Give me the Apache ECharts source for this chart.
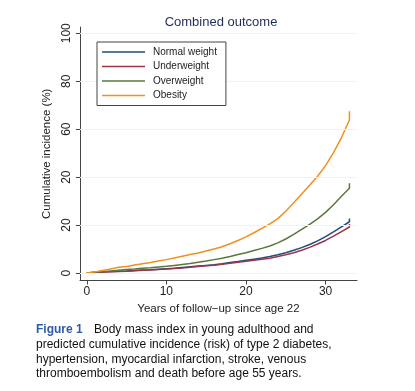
<!DOCTYPE html>
<html>
<head>
<meta charset="utf-8">
<script src="https://cdn.jsdelivr.net/npm/echarts@6/dist/echarts.min.js"></script>
<style>
html,body{margin:0;padding:0;background:#fff;}
#chart{width:415px;height:391px;}
</style>
</head>
<body>
<div id="chart"></div>
<script>
// ---- data ----
var titleText = 'Combined outcome';
var seriesNames = ['Normal weight', 'Underweight', 'Overweight', 'Obesity'];
var years = [0,1,2,3,4,5,6,7,8,9,10,11,12,13,14,15,16,17,18,19,20,21,22,23,24,25,26,27,28,29,30,31,32,33,33];
var normalWeight = [0,0.2,0.4,0.6,0.8,0.9,1.1,1.3,1.4,1.6,1.8,2.0,2.3,2.6,2.9,3.2,3.5,3.9,4.4,4.8,5.3,5.8,6.3,6.9,7.6,8.5,9.5,10.6,11.9,13.4,15.2,17.2,19.3,21.4,22.8];
var underweight = [0,0.2,0.4,0.5,0.7,0.8,1.0,1.2,1.3,1.5,1.7,1.9,2.1,2.4,2.7,3.0,3.3,3.7,4.1,4.5,4.9,5.3,5.8,6.2,6.9,7.6,8.5,9.5,10.7,12.1,13.6,15.4,17.3,19.2,20.5];
var overweight = [0,0.3,0.6,0.9,1.2,1.5,1.7,2.0,2.2,2.5,2.8,3.2,3.6,4.0,4.5,5.0,5.6,6.2,6.9,7.7,8.5,9.4,10.3,11.3,12.6,14.2,16.1,18.2,20.3,22.6,25.3,28.5,32.0,35.4,37.5];
var obesity = [0,0.5,1.1,1.7,2.4,2.7,3.4,3.9,4.4,5.0,5.6,6.3,7.0,7.7,8.4,9.2,10.0,11.0,12.2,13.6,15.1,16.8,18.6,20.5,22.7,25.8,29.3,33.0,36.6,40.4,44.8,50.2,56.5,63.8,67.5];
var xTickValues = [0,10,20,30];
var xTickLabels = ['0','10','20','30'];
var yTickValues = [0,20,40,60,80,100];
var yTickLabels = ['0','20','20','60','80','100'];
var xAxisName = 'Years of follow\u2212up since age 22';
var yAxisName = 'Cumulative incidence (%)';
var captionLabel = 'Figure 1';
var captionLines = [
  'Body mass index in young adulthood and',
  'predicted cumulative incidence (risk) of type 2 diabetes,',
  'hypertension, myocardial infarction, stroke, venous',
  'thromboembolism and death before age 55 years.'
];

// ---- styles ----
var FONT = '"Liberation Sans", Arial, sans-serif';
var colors = ['#1f4e79', '#9a3648', '#58783a', '#f0901f'];
var allValues = [normalWeight, underweight, overweight, obesity];

function pairs(xs, ys) {
  return xs.map(function (x, i) { return [x, ys[i]]; });
}

var series = [{
  name: '__grid',
  type: 'line',
  data: [],
  z: 0,
  silent: true,
  markLine: {
    silent: true,
    symbol: ['none', 'none'],
    label: { show: false },
    lineStyle: { color: '#f1f1f1', width: 1, type: 'solid' },
    emphasis: { disabled: true },
    data: yTickValues.map(function (v) { return { yAxis: v }; })
  }
}];
seriesNames.forEach(function (n, i) {
  series.push({
    name: n,
    type: 'line',
    data: pairs(years, allValues[i]),
    symbol: 'none',
    showSymbol: false,
    z: 3,
    lineStyle: { color: colors[i], width: 1.5 },
    itemStyle: { color: colors[i] },
    emphasis: { disabled: true }
  });
});

var graphics = [{
  type: 'text',
  left: 36, top: 324,
  style: { text: captionLabel, font: 'bold 12px ' + FONT, fill: '#2f5aa8' }
}];
var capY = [324, 339, 354, 368];
captionLines.forEach(function (t, i) {
  graphics.push({
    type: 'text',
    left: i === 0 ? 94 : 36,
    top: capY[i],
    style: { text: t, font: '12px ' + FONT, fill: '#111' }
  });
});

var chart = echarts.init(document.getElementById('chart'), null, { renderer: 'canvas' });
chart.setOption({
  backgroundColor: '#fff',
  animation: false,
  textStyle: { fontFamily: FONT },
  title: {
    text: titleText,
    left: 216,
    top: 11,
    textAlign: 'center',
    textStyle: { color: '#1f2d5c', fontSize: 13, fontWeight: 'normal', fontFamily: FONT }
  },
  legend: {
    data: seriesNames,
    orient: 'vertical',
    left: 97,
    top: 42,
    z: 10,
    padding: [5, 9, 5, 5],
    icon: 'rect',
    itemWidth: 43,
    itemHeight: 1.3,
    itemGap: 4.5,
    borderColor: '#444',
    borderWidth: 1,
    borderRadius: 0,
    backgroundColor: '#fff',
    selectedMode: false,
    textStyle: { fontSize: 10, lineHeight: 10, color: '#222', fontFamily: FONT, padding: [0, 0, 0, 3] }
  },
  grid: { left: 80, right: 58, top: 27, bottom: 110.5, containLabel: false },
  xAxis: {
    type: 'value',
    min: -0.85,
    max: 33.95,
    name: xAxisName,
    nameLocation: 'middle',
    nameGap: 17,
    nameTextStyle: { fontSize: 11.5, color: '#222', fontFamily: FONT },
    axisLine: { onZero: false, lineStyle: { color: '#444', width: 1 } },
    axisTick: { show: true, customValues: xTickValues, length: 4, lineStyle: { color: '#444' } },
    axisLabel: {
      customValues: xTickValues,
      margin: 5,
      fontSize: 12,
      color: '#222',
      formatter: function (v) { var k = xTickValues.indexOf(v); return k >= 0 ? xTickLabels[k] : ''; }
    },
    splitLine: { show: false }
  },
  yAxis: {
    type: 'value',
    min: -3.1,
    max: 102.6,
    name: yAxisName,
    nameLocation: 'middle',
    nameGap: 26,
    nameTextStyle: { fontSize: 11.5, color: '#222', fontFamily: FONT },
    axisLine: { show: true, onZero: false, lineStyle: { color: '#444', width: 1 } },
    axisTick: { show: true, customValues: yTickValues, length: 4, lineStyle: { color: '#444' } },
    axisLabel: {
      customValues: yTickValues,
      rotate: 90,
      margin: 7,
      fontSize: 12,
      color: '#222',
      formatter: function (v) { var k = yTickValues.indexOf(v); return k >= 0 ? yTickLabels[k] : ''; }
    },
    splitLine: { show: false }
  },
  series: series,
  graphic: graphics
});
</script>
</body>
</html>
